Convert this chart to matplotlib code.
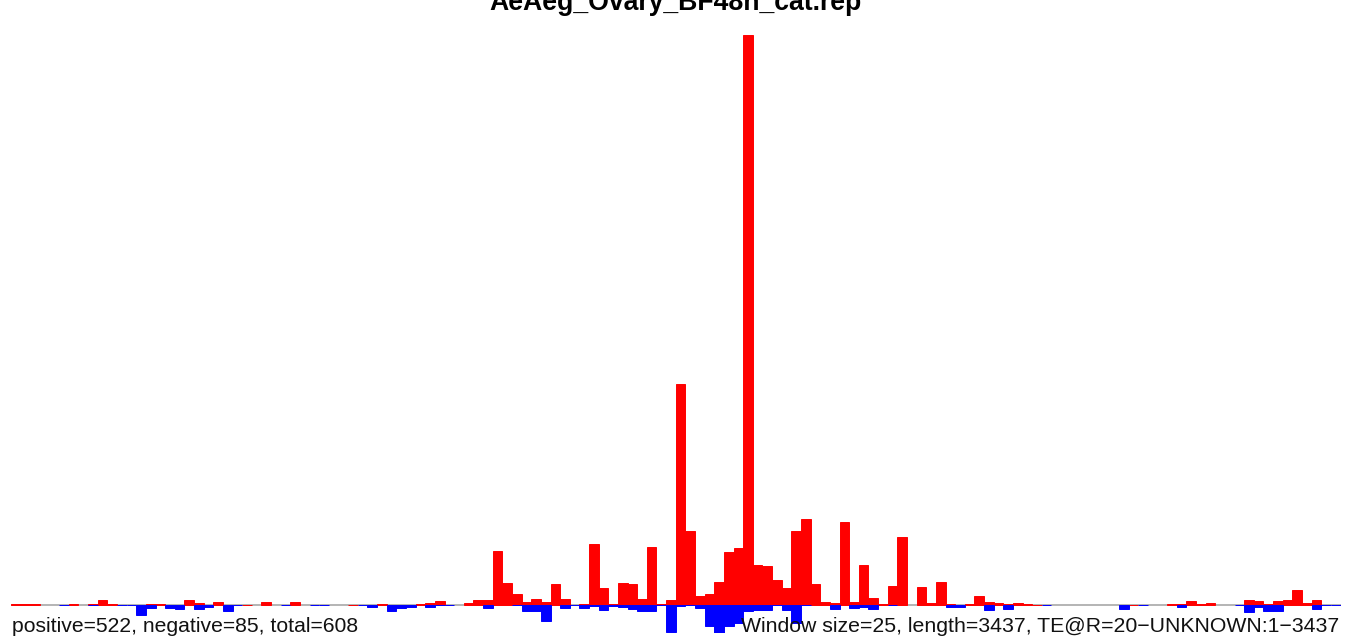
import numpy as np
import matplotlib
matplotlib.use("Agg")
import matplotlib.pyplot as plt

nan = np.nan
TITLE = "AeAeg_Ovary_BF48h_cat.rep"
LEFT_LABEL = "positive=522, negative=85, total=608"
RIGHT_LABEL = "Window size=25, length=3437, TE@R=20\u2212UNKNOWN:1\u22123437"
WINDOW = 25
LENGTH = 3437

# positive (sense) counts per 25-bp window; nan = no value
positive = [
    0.2, 0.26, 0.26, nan, nan, nan, 0.2, nan, 0.13, 1.3,
    0.26, nan, nan, nan, 0.26, 0.26, nan, nan, 1.3, 0.52,
    nan, 0.78, nan, nan, 0, nan, 0.78, nan, nan, 0.78,
    nan, nan, nan, nan, nan, 0, nan, nan, 0.26, nan,
    nan, nan, 0.2, 0.52, 1.04, nan, nan, 0.52, 1.3, 1.3,
    14.0, 5.7, 2.9, 0.78, 1.56, 0.78, 5.5, 1.56, nan, 0.26,
    15.8, 4.4, 0.26, 5.7, 5.5, 1.56, 15.1, 0.26, 1.3, 57.4,
    19.2, 2.3, 2.9, 6.0, 13.8, 14.8, 148.0, 10.4, 10.1, 6.5,
    4.4, 19.2, 22.3, 5.5, 0.78, 0.52, 21.6, 0.78, 10.4, 1.8,
    0.26, 4.9, 17.7, nan, 4.7, 0.52, 6.0, 0.26, 0, 0.13,
    2.3, 0.78, 0.52, 0.26, 0.52, 0.26, 0, nan, nan, nan,
    nan, nan, nan, nan, nan, nan, 0, nan, nan, nan,
    0.26, 0.26, 1.04, 0.13, 0.52, nan, nan, nan, 1.3, 1.04,
    0.26, 1.04, 1.3, 3.9, 0.52, 1.3, nan, nan,
]

# negative (antisense) counts per window, as magnitudes; nan = no value
negative = [
    nan, nan, nan, nan, nan, 0, nan, nan, 0, nan,
    nan, 0, 0, 2.6, 0.78, nan, 0.78, 1.04, nan, 1.04,
    0.52, nan, 1.56, 0, nan, nan, nan, nan, 0, nan,
    nan, 0, 0, nan, nan, nan, 0, 0.52, nan, 1.56,
    0.78, 0.52, nan, 0.52, 0, 0, nan, nan, nan, 0.78,
    nan, nan, 0, 1.56, 1.56, 4.2, nan, 0.78, 0, 0.78,
    0.26, 1.3, 0.26, 0.52, 1.04, 1.56, 1.56, 0, 7.0, 0.26,
    0, 0.78, 5.5, 7.3, 5.5, 4.7, 1.56, 1.3, 1.3, 0,
    1.3, 4.7, 0, nan, nan, 1.04, nan, 0.78, 0.52, 1.04,
    nan, 0, nan, nan, nan, nan, nan, 0.52, 0.52, nan,
    nan, 1.3, nan, 1.04, nan, nan, nan, 0, nan, nan,
    nan, nan, nan, nan, nan, 1.04, nan, 0, nan, nan,
    nan, 0.52, nan, nan, nan, nan, nan, 0, 1.8, 0.52,
    1.56, 1.56, nan, nan, nan, 1.04, 0, 0,
]

pos = np.array(positive, dtype=float)
neg = np.array(negative, dtype=float)
n = len(pos)
starts = np.arange(n) * WINDOW

W, H = 1349, 639
fig = plt.figure(figsize=(W / 100, H / 100), dpi=100)
ax = fig.add_axes([11 / W, 6 / H, 1329.5 / W, 598 / H])
ax.set_axis_off()
ax.set_xlim(0, n * WINDOW)
ax.set_ylim(-np.nanmax(neg), np.nanmax(pos))

ax.axhline(0, color="#a0a0a0", lw=1.1, zorder=1)
mp = ~np.isnan(pos)
ax.bar(starts[mp], pos[mp], width=WINDOW, align="edge", color="#ff0000",
       edgecolor="#ff0000", linewidth=0.7, zorder=2)
mn = ~np.isnan(neg)
ax.bar(starts[mn], -neg[mn], width=WINDOW, align="edge", color="#0000ff",
       edgecolor="#0000ff", linewidth=0.7, zorder=3)

font = "Liberation Sans"
fig.text(675 / W, 1 - 10.5 / H, TITLE, ha="center", va="baseline",
         fontsize=19.2, fontweight="bold", family=font, zorder=10)
fig.text(12 / W, 1 - 631.5 / H, LEFT_LABEL, ha="left", va="baseline",
         fontsize=15.25, family=font, color="#111111", zorder=10)
fig.text(1339.5 / W, 1 - 631.5 / H, RIGHT_LABEL, ha="right", va="baseline",
         fontsize=15.3, family=font, color="#111111", zorder=10)

fig.savefig("out.png", dpi=100)
